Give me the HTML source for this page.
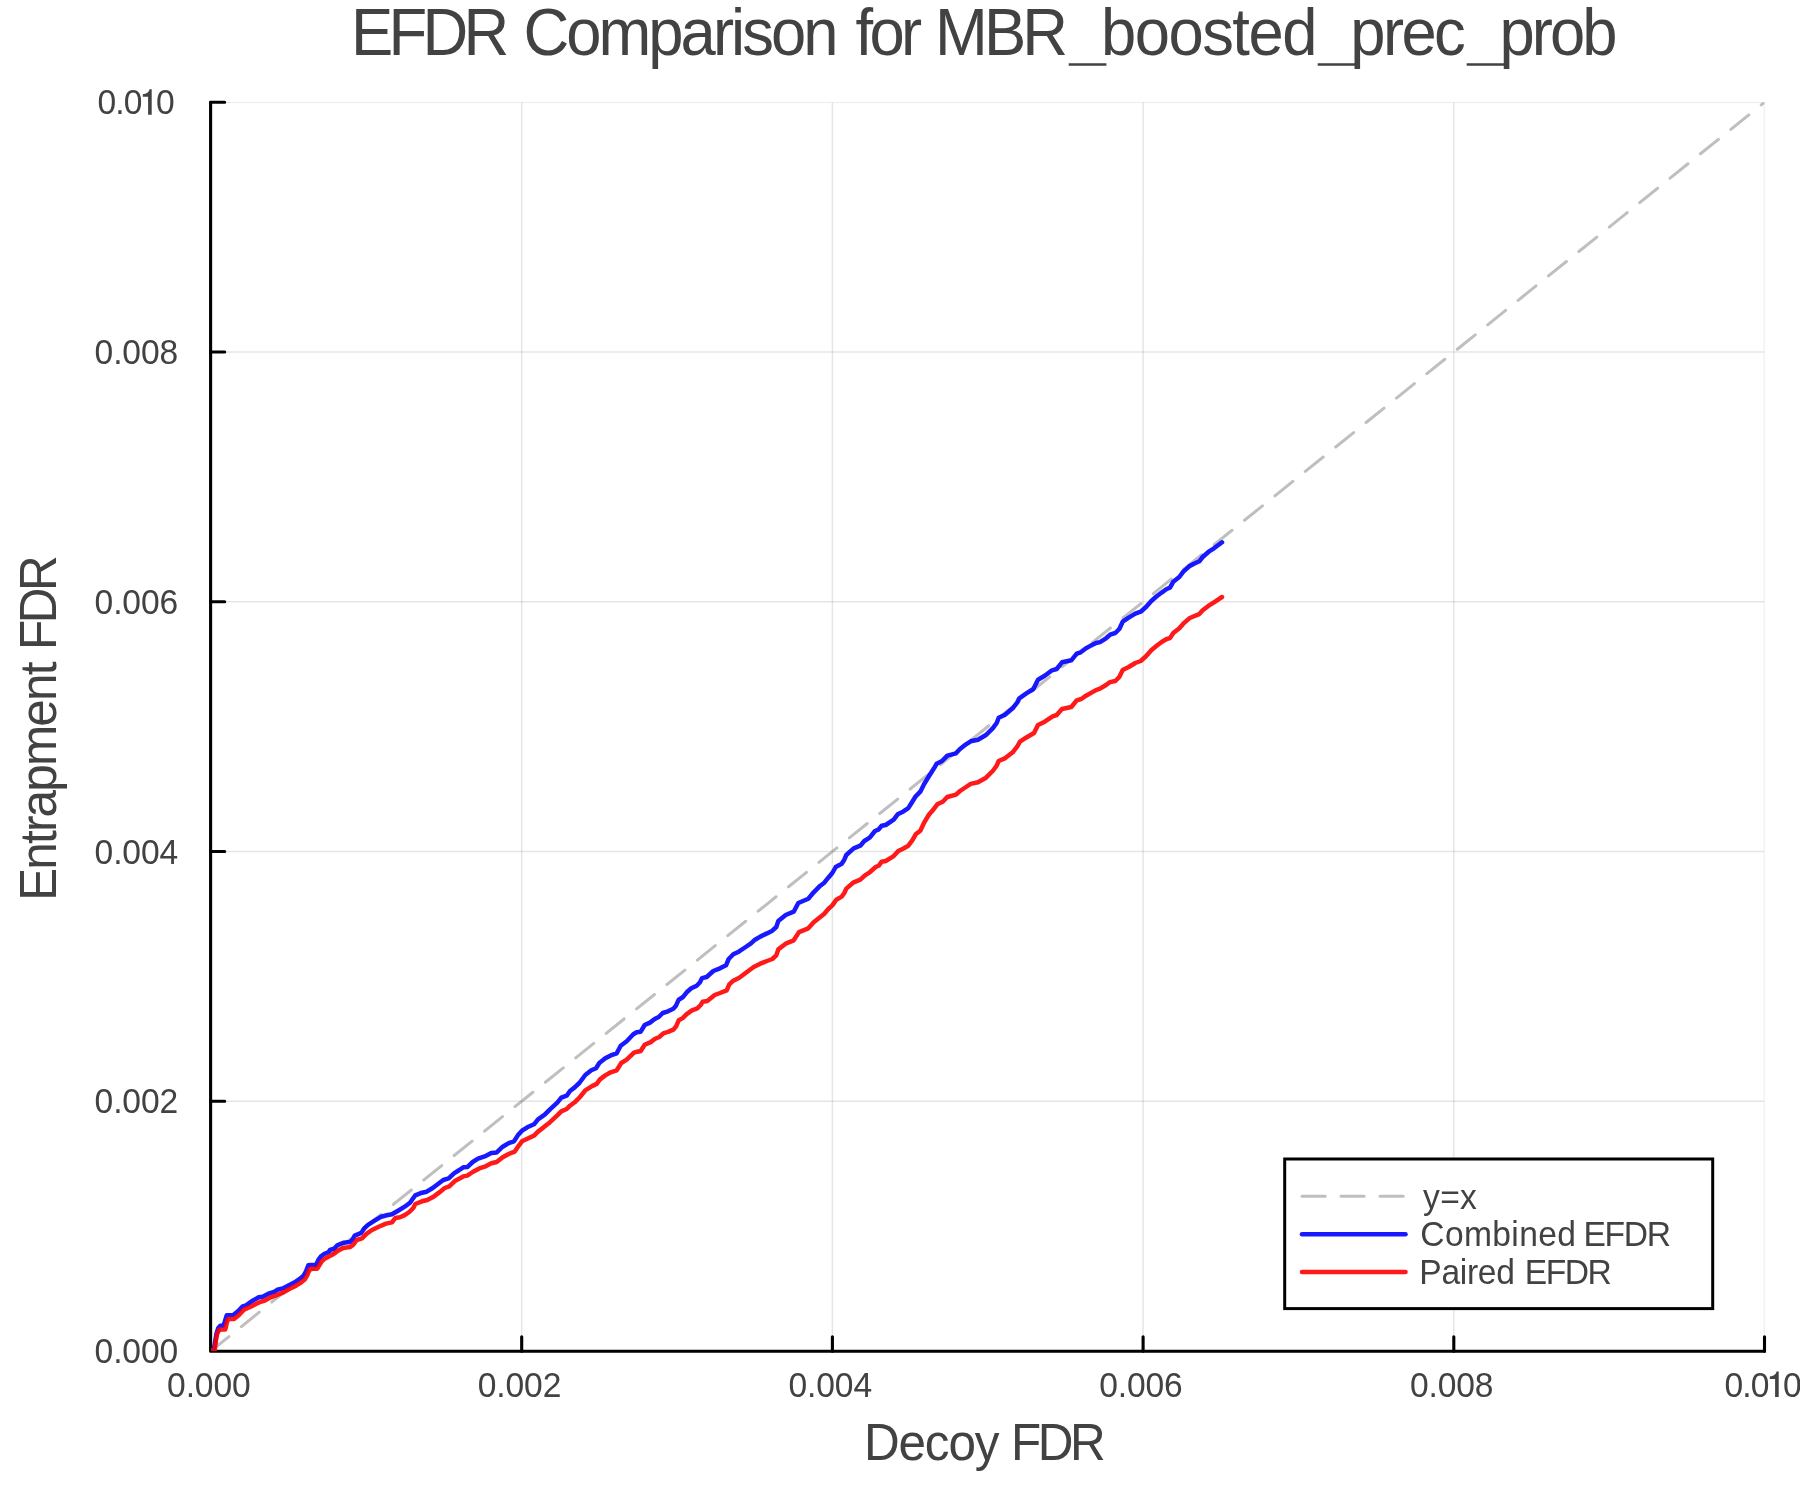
<!DOCTYPE html>
<html><head><meta charset="utf-8">
<style>
html,body{margin:0;padding:0;background:#fff;}
body{width:1800px;height:1500px;overflow:hidden;position:relative;font-family:"Liberation Sans",sans-serif;}
svg{position:absolute;left:0;top:0;will-change:transform;}
text{font-family:"Liberation Sans",sans-serif;fill:#424242;}
</style></head><body>
<svg width="1800" height="1500" viewBox="0 0 1800 1500">
<defs><clipPath id="pa"><rect x="211" y="102.3" width="1553.5" height="1248.7"/></clipPath><g id="t010"><text transform="translate(-1.4,0) scale(0.96,1)" font-size="35" letter-spacing="-1">0.0</text><path d="M52.7 -25.2V0.4H49.1V-17.6H43.8V-20.2C47.5 -20.4 50 -22.1 50.6 -25.2Z" fill="#424242"/><text transform="translate(56.9,0) scale(0.96,1)" font-size="35">0</text></g></defs>
<!-- grid -->
<g clip-path="url(#pa)" stroke="#000" stroke-opacity="0.1" stroke-width="1.5" fill="none">
<path d="M521.7 102.3V1351M832.4 102.3V1351M1143.1 102.3V1351M1453.8 102.3V1351M1764.5 102.3V1351"/>
<path d="M211 102.3H1764.5M211 352H1764.5M211 601.8H1764.5M211 851.5H1764.5M211 1101.2H1764.5"/>
</g>
<!-- axes -->
<g stroke="#000" stroke-width="3.1" fill="none" stroke-linecap="round" stroke-linejoin="round">
<path d="M210.6 102.3V1351.2H1764.5"/>
<path d="M521.7 1351.2V1336.8M832.4 1351.2V1336.8M1143.1 1351.2V1336.8M1453.8 1351.2V1336.8M1764.5 1351.2V1336.8"/>
<path d="M210.6 102.3H224.7M210.6 352H224.7M210.6 601.8H224.7M210.6 851.5H224.7M210.6 1101.2H224.7"/>
</g>
<!-- y=x -->
<path id="yx" clip-path="url(#pa)" d="M211 1351L1764.5 102.3" stroke="#808080" stroke-opacity="0.5" stroke-width="3" stroke-dasharray="23 16" stroke-linecap="round" fill="none"/>
<!-- curves -->
<g id="curves" clip-path="url(#pa)" stroke-opacity="0.9" fill="none" stroke-width="4.5" stroke-linejoin="round" stroke-linecap="round">
<path id="blue" stroke="#00f" d="M211.1 1350.3 L213.7 1349.9 L215.1 1342.0 L216.4 1334.0 L218.3 1328.0 L220.3 1325.7 L223.3 1325.7 L224.7 1322.0 L226.7 1315.3 L233.3 1315.1 L238.0 1311.3 L242.7 1306.3 L246.0 1305.3 L252.7 1300.7 L258.7 1297.3 L262.7 1296.7 L269.3 1293.3 L274.7 1291.6 L277.3 1289.7 L282.7 1288.4 L288.0 1285.7 L294.7 1282.3 L300.0 1278.7 L303.3 1276.0 L306.0 1271.3 L308.3 1265.3 L310.7 1264.9 L316.0 1264.9 L318.7 1259.3 L321.3 1256.0 L324.7 1253.7 L328.7 1252.0 L330.0 1250.0 L334.0 1248.7 L337.3 1245.3 L343.3 1242.7 L350.0 1242.0 L352.7 1239.3 L354.7 1235.6 L361.3 1232.9 L364.0 1228.7 L368.0 1224.9 L374.7 1220.7 L381.3 1216.7 L386.7 1215.3 L392.0 1214.3 L399.3 1210.0 L404.7 1206.7 L410.0 1202.7 L415.3 1195.3 L422.0 1192.7 L426.7 1191.7 L432.7 1188.0 L438.0 1184.0 L443.3 1180.0 L448.7 1178.4 L454.0 1173.3 L459.3 1170.0 L463.3 1167.3 L467.3 1167.1 L472.7 1162.0 L478.0 1158.7 L484.7 1156.4 L491.3 1152.9 L496.7 1152.4 L502.7 1146.7 L508.7 1143.1 L514.0 1141.3 L518.0 1135.1 L522.0 1130.7 L527.3 1127.3 L534.0 1124.3 L538.0 1119.3 L544.7 1114.7 L550.0 1109.3 L557.3 1102.6 L561.3 1097.7 L566.7 1095.7 L570.0 1091.0 L574.7 1087.4 L579.3 1083.0 L585.3 1075.0 L591.3 1070.3 L596.0 1068.3 L599.3 1063.0 L605.3 1058.3 L610.7 1055.4 L616.7 1053.3 L620.7 1045.7 L626.7 1041.3 L633.3 1034.3 L636.7 1032.3 L640.7 1031.7 L644.7 1025.0 L650.0 1022.6 L654.7 1019.0 L658.7 1017.0 L662.7 1013.0 L668.0 1011.3 L673.3 1008.7 L676.0 1005.7 L678.7 999.7 L682.7 997.3 L686.7 992.3 L691.3 988.3 L696.7 985.7 L700.0 982.3 L702.0 978.1 L706.7 977.0 L713.3 971.0 L720.0 968.3 L726.0 965.3 L728.7 959.0 L733.3 954.3 L738.7 951.7 L745.7 947.0 L751.0 943.3 L755.0 939.7 L760.3 936.6 L767.0 933.4 L772.3 930.7 L776.3 927.0 L778.3 921.0 L785.7 915.0 L793.7 911.7 L798.3 903.0 L808.3 898.7 L813.7 892.3 L820.3 885.7 L824.3 882.7 L828.3 877.7 L832.3 873.0 L835.7 867.0 L841.7 863.7 L844.3 859.7 L846.3 855.0 L853.7 848.3 L860.3 845.7 L864.3 841.0 L869.7 837.7 L875.0 831.0 L878.3 829.7 L881.7 825.7 L885.7 825.0 L893.7 819.7 L897.7 814.3 L903.0 811.7 L908.3 808.1 L912.3 801.7 L915.7 796.3 L920.3 791.7 L924.3 783.7 L929.7 775.0 L934.0 768.3 L936.7 763.7 L942.0 761.0 L947.3 755.7 L956.0 753.3 L960.0 749.0 L966.0 744.3 L970.7 741.3 L978.0 739.7 L986.0 735.0 L992.7 728.3 L996.7 723.0 L998.7 717.7 L1004.7 715.0 L1012.7 708.3 L1017.3 702.3 L1019.3 698.3 L1026.0 693.7 L1033.3 689.0 L1036.0 683.7 L1038.0 679.7 L1044.7 675.7 L1052.0 670.3 L1056.7 669.0 L1062.0 662.3 L1071.3 660.3 L1076.7 653.7 L1080.7 652.3 L1086.0 648.3 L1090.0 646.1 L1096.0 643.0 L1100.0 642.1 L1106.0 638.3 L1110.7 634.3 L1115.3 633.0 L1119.3 629.0 L1122.7 621.7 L1128.7 617.7 L1135.3 613.7 L1140.7 611.7 L1146.0 607.0 L1151.3 601.0 L1156.7 596.3 L1162.0 592.3 L1166.7 589.0 L1170.0 587.7 L1173.3 581.7 L1179.3 577.0 L1183.3 571.7 L1189.3 566.3 L1194.0 563.7 L1199.3 561.3 L1202.7 557.0 L1208.7 551.7 L1214.0 548.3 L1222.0 542.3"/>
<path id="red" stroke="#f00" d="M211.1 1350.3 L214.7 1350.1 L216.0 1340.0 L217.3 1333.3 L219.3 1330.0 L220.9 1329.5 L225.3 1329.5 L226.7 1323.3 L228.1 1319.1 L234.0 1319.1 L238.7 1315.3 L244.0 1309.6 L250.7 1306.7 L260.0 1302.0 L264.0 1300.9 L270.7 1297.3 L276.0 1295.3 L282.7 1292.7 L289.3 1289.1 L296.0 1285.7 L301.3 1282.3 L304.7 1279.6 L307.3 1275.3 L309.6 1269.3 L312.0 1268.7 L317.3 1268.7 L319.3 1265.3 L321.3 1262.0 L324.7 1258.7 L328.0 1256.9 L331.3 1255.3 L334.7 1253.3 L338.0 1250.7 L343.3 1248.0 L350.0 1247.1 L353.3 1244.7 L356.7 1240.0 L362.0 1238.3 L366.7 1233.7 L372.0 1230.0 L378.7 1226.7 L386.0 1223.6 L392.0 1222.4 L395.3 1218.0 L400.0 1217.3 L404.7 1215.1 L409.3 1212.0 L413.3 1208.0 L415.3 1204.0 L422.0 1201.3 L427.3 1200.0 L434.0 1196.4 L439.3 1192.4 L444.7 1188.0 L449.3 1186.3 L455.3 1180.7 L463.3 1176.4 L467.3 1175.6 L472.7 1172.0 L479.3 1168.4 L484.7 1166.7 L491.3 1163.3 L496.7 1162.0 L502.7 1157.3 L508.7 1154.0 L514.7 1151.6 L518.0 1146.7 L522.0 1141.3 L527.3 1138.7 L534.0 1135.6 L538.0 1131.6 L543.3 1127.6 L548.7 1123.3 L552.7 1119.6 L557.3 1115.4 L561.3 1111.4 L566.7 1109.0 L570.0 1105.7 L574.7 1102.3 L580.0 1097.0 L585.3 1090.3 L592.0 1086.1 L596.7 1083.9 L600.0 1079.4 L605.3 1075.4 L610.7 1072.3 L616.7 1070.3 L621.3 1063.0 L626.7 1059.7 L634.0 1052.7 L637.3 1051.7 L640.7 1051.0 L644.7 1044.7 L650.7 1042.1 L654.7 1039.0 L659.3 1037.0 L663.3 1033.3 L668.0 1031.9 L673.3 1029.7 L676.0 1026.6 L678.7 1020.3 L682.7 1018.1 L686.7 1014.1 L692.0 1010.3 L697.3 1008.3 L700.7 1005.0 L702.7 1001.7 L707.3 1001.0 L714.7 995.0 L720.0 993.0 L726.7 990.3 L729.3 984.3 L733.3 980.7 L739.3 977.7 L748.3 971.0 L753.7 967.0 L760.3 963.7 L767.0 961.0 L772.3 959.0 L776.3 955.3 L778.3 949.4 L786.3 943.3 L793.7 940.3 L799.0 932.1 L808.3 928.3 L813.7 922.3 L820.3 917.0 L824.3 913.7 L828.3 909.0 L832.3 905.4 L836.3 899.7 L841.7 896.6 L844.3 893.0 L846.3 888.6 L853.7 882.3 L860.3 879.7 L865.0 875.3 L869.7 872.3 L875.7 867.0 L879.0 865.4 L881.7 861.7 L885.7 861.0 L893.7 856.1 L898.3 851.0 L903.0 848.7 L908.3 845.7 L912.3 840.3 L915.7 834.3 L920.3 830.7 L924.3 822.3 L928.7 815.0 L934.0 808.7 L937.3 804.3 L942.7 801.7 L947.3 797.0 L956.0 794.6 L960.0 791.0 L966.0 787.0 L970.7 783.9 L978.0 782.3 L986.0 777.7 L992.7 771.0 L996.7 765.7 L998.7 761.0 L1005.3 758.1 L1012.7 752.3 L1017.3 746.3 L1020.0 741.7 L1026.0 737.7 L1034.0 733.0 L1036.0 729.0 L1038.0 725.0 L1044.7 721.7 L1052.7 716.3 L1056.7 715.0 L1062.0 709.0 L1071.3 707.0 L1076.7 700.3 L1081.3 699.0 L1086.0 695.7 L1096.0 690.1 L1100.0 688.7 L1106.0 685.0 L1110.0 682.1 L1115.3 681.0 L1119.3 677.0 L1122.7 670.1 L1128.7 667.0 L1135.3 663.0 L1140.7 661.0 L1146.0 656.3 L1151.3 650.3 L1156.7 645.7 L1162.0 641.7 L1166.7 639.0 L1170.0 638.1 L1173.3 633.0 L1179.3 628.3 L1183.3 623.7 L1189.3 618.3 L1194.0 616.3 L1199.3 614.1 L1202.7 610.3 L1208.7 605.7 L1214.0 602.3 L1222.0 597.0"/>
</g>
<!-- tick labels -->
<g id="xt">
<text transform="translate(167.1,1396.6) scale(0.96,1)" font-size="35" letter-spacing="-0.13">0.000</text>
<text transform="translate(477.8,1396.6) scale(0.96,1)" font-size="35" letter-spacing="-0.13">0.002</text>
<text transform="translate(788.5,1396.6) scale(0.96,1)" font-size="35" letter-spacing="-0.13">0.004</text>
<text transform="translate(1099.2,1396.6) scale(0.96,1)" font-size="35" letter-spacing="-0.13">0.006</text>
<text transform="translate(1409.9,1396.6) scale(0.96,1)" font-size="35" letter-spacing="-0.13">0.008</text>
<use href="#t010" x="1726" y="1396.6"/>
</g><g id="yt">
<use href="#t010" x="99" y="114.4"/>
<text transform="translate(94.6,364.1) scale(0.96,1)" font-size="35" letter-spacing="-0.13">0.008</text>
<text transform="translate(94.6,613.9) scale(0.96,1)" font-size="35" letter-spacing="-0.13">0.006</text>
<text transform="translate(94.6,863.6) scale(0.96,1)" font-size="35" letter-spacing="-0.13">0.004</text>
<text transform="translate(94.6,1113.3) scale(0.96,1)" font-size="35" letter-spacing="-0.13">0.002</text>
<text transform="translate(94.6,1363.1) scale(0.96,1)" font-size="35" letter-spacing="-0.13">0.000</text>
</g>
<g id="title">
<text transform="translate(351.0,54.7) scale(0.96,1)" font-size="66" letter-spacing="-4.96">EFDR</text>
<text transform="translate(523.4,54.7) scale(0.96,1)" font-size="66" letter-spacing="-3.07">Comparison</text>
<text transform="translate(855.5,54.7) scale(0.96,1)" font-size="66" letter-spacing="-3.81">for</text>
<text transform="translate(935.1,54.7) scale(0.96,1)" font-size="66" letter-spacing="-4.09">MBR</text>
<text transform="translate(1101.0,54.7) scale(0.96,1)" font-size="66" letter-spacing="-1.57">boosted</text>
<text transform="translate(1350.2,54.7) scale(0.96,1)" font-size="66" letter-spacing="-2.66">prec</text>
<text transform="translate(1499.6,54.7) scale(0.96,1)" font-size="66" letter-spacing="-3.12">prob</text>
<path d="M1068.7 64.5H1106.4M1317.7 64.5H1355.4M1466.7 64.5H1504.4" stroke="#424242" stroke-width="2.7" fill="none"/>
</g><g id="xl">
<text transform="translate(863.9,1459.7) scale(0.96,1)" font-size="51.5" letter-spacing="-1.18">Decoy</text>
<text transform="translate(1010.9,1459.7) scale(0.96,1)" font-size="51.5" letter-spacing="-3.57">FDR</text>
</g><g id="yl">
<text transform="translate(56,900.8) rotate(-90) scale(0.96,1)" font-size="51.5" letter-spacing="-1.89">Entrapment</text>
<text transform="translate(56,650.1) rotate(-90) scale(0.96,1)" font-size="51.5" letter-spacing="-3.57">FDR</text>
</g>
<!-- legend -->
<rect x="1284.7" y="1159" width="428" height="149.6" fill="#fff" stroke="#000" stroke-width="3"/>
<path d="M1302 1196.2H1405.5" stroke="#808080" stroke-opacity="0.5" stroke-width="3" stroke-dasharray="23.2 15.8" stroke-linecap="round"/>
<path d="M1302 1234.2H1405.5" stroke="#00f" stroke-opacity="0.9" stroke-width="4.5" stroke-linecap="round"/>
<path d="M1302 1272H1405.5" stroke="#f00" stroke-opacity="0.9" stroke-width="4.5" stroke-linecap="round"/>
<g id="lg">
<text transform="translate(1423.0,1208.7) scale(0.96,1)" font-size="35" letter-spacing="0.36">y=x</text>
<text transform="translate(1420.3,1246.2) scale(0.96,1)" font-size="35" letter-spacing="0.37">Combined</text>
<text transform="translate(1583.5,1246.2) scale(0.96,1)" font-size="35" letter-spacing="-1.4">EFDR</text>
<text transform="translate(1419.3,1283.7) scale(0.96,1)" font-size="35" letter-spacing="-0.32">Paired</text>
<text transform="translate(1524.8,1283.7) scale(0.96,1)" font-size="35" letter-spacing="-1.56">EFDR</text>
</g>
</svg>
</body></html>
